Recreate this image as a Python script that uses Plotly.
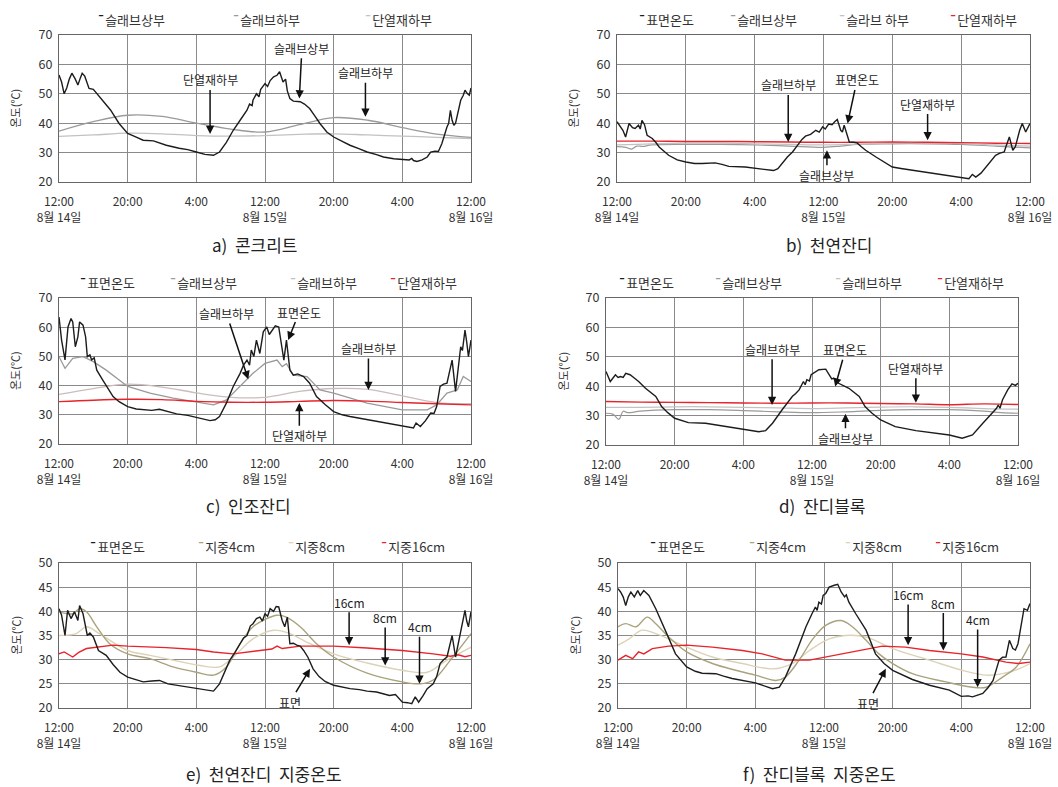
import plotly.graph_objects as go

W, H = 1058, 787
FONT = "Noto Sans CJK KR"

# ---------------- shared axes ----------------
HOURS13 = [0, 4, 8, 12, 16, 20, 24, 28, 32, 36, 40, 44, 48]
TICK_VALS = [0, 8, 16, 24, 32, 40, 48]
TICK_TEXT = ["12:00<br>8월 14일", "20:00", "4:00", "12:00<br>8월 15일", "20:00", "4:00", "12:00<br>8월 16일"]
Y_TICKS_AD = [20, 30, 40, 50, 60, 70]
Y_TICKS_EF = [20, 25, 30, 35, 40, 45, 50]
Y_TITLE = "온도(℃)"

# ---------------- a) 콘크리트 ----------------
a_top_t = [0, 0.3, 0.6, 0.9, 1.2, 1.5, 1.9, 2.2, 2.5, 2.7, 3.0, 3.3, 3.5, 4.0, 4.3, 5.1, 6.0, 7.0, 8.0, 9.0, 9.8, 11, 12.5, 14, 15, 16, 17, 18, 18.7, 19.5, 20.3, 21.1, 21.9, 22.2, 22.5, 22.6, 23, 23.3, 23.5, 24, 24.3, 24.6, 25, 25.4, 25.7, 26.1, 26.4, 26.6, 26.9, 27.3, 28.1, 28.6, 29.2, 29.8, 30.4, 31.2, 32, 33, 33.9, 35, 35.9, 37, 37.8, 39, 40, 40.8, 41.1, 41.3, 41.7, 42.3, 42.9, 43.3, 43.8, 44.2, 44.6, 45.0, 45.2, 45.4, 45.6, 45.8, 46.0, 46.2, 46.5, 46.8, 47.1, 47.3, 47.6, 47.8, 48]
a_top_v = [56.4, 54, 50, 52, 55, 57, 55, 53, 55.5, 57, 56, 53, 51.8, 51.5, 50.5, 47.8, 44.5, 39.9, 36.5, 35.3, 34.2, 34.0, 32.5, 31.5, 31, 30.2, 29.4, 29.1, 30.2, 33.5, 37.6, 41, 44.4, 46.5, 46, 47.8, 50, 49, 51.5, 53.5, 52.5, 54.5, 55.8, 56.3, 57.5, 54, 55, 51, 48.4, 47.5, 47.3, 46.5, 45, 42.5, 39.9, 37, 35.3, 33.8, 32.5, 31.3, 30.2, 29.3, 28.5, 27.9, 27.6, 27.5, 28, 27.3, 27, 27.5, 28.5, 30.2, 30.5, 30.4, 33, 37, 38.7, 40, 44.4, 41, 39.3, 40, 44, 47.8, 49.5, 51.2, 50, 49.5, 52]
a_slab_bottom = [37.3, 40.5, 42.7, 42.3, 40.0, 38.0, 37.0, 39.5, 41.9, 41.0, 38.5, 36.3, 35.2]
a_insul_bottom = [35.5, 36.0, 36.6, 36.4, 35.8, 35.6, 35.8, 36.2, 36.4, 36.0, 35.6, 35.2, 34.8]

# ---------------- b) 천연잔디 ----------------
b_surf_t = [0, 0.4, 0.7, 1.0, 1.4, 1.8, 2.1, 2.5, 2.7, 2.9, 3.2, 3.5, 4.1, 4.5, 4.9, 6, 7, 8, 9, 9.9, 11.4, 12.2, 13, 14.9, 16.9, 18.2, 18.7, 19.2, 19.8, 20.4, 21.1, 21.5, 21.9, 22.5, 23.1, 23.5, 23.9, 24.2, 24.6, 25, 25.3, 25.6, 26, 26.2, 26.4, 26.7, 27, 27.5, 27.9, 28.4, 28.9, 30.1, 31, 32, 33, 34.3, 36.3, 38.2, 40, 40.9, 41.3, 41.7, 42.3, 42.9, 43.5, 44, 44.5, 45, 45.2, 45.6, 46, 46.3, 46.8, 47.1, 47.5, 47.8, 48]
b_surf_v = [40.5, 39, 37.5, 35.3, 39.9, 38.5, 38.2, 39.3, 38, 41, 39.5, 35.9, 34.8, 33.5, 31.9, 29.1, 27.5, 26.8, 26.3, 26.3, 26.5, 26, 25.3, 25.1, 24.5, 23.9, 24.5, 26.3, 28.5, 30.2, 33, 34.5, 35.6, 36.2, 37.6, 37, 38.75, 38, 39.7, 39.5, 40.5, 41.25, 37.6, 37, 39.3, 36, 33.6, 33.5, 33.3, 32, 30.8, 28.5, 27, 25.1, 24.6, 24, 23.1, 22.3, 21.5, 21.1, 22.6, 21.7, 23, 25.1, 27, 29.1, 29.8, 30.2, 32, 35.3, 30.8, 32, 37.6, 39.9, 37, 38.5, 39.9]
b_slab_top_t = [0, 1, 1.7, 2.3, 3, 4, 8, 12, 16, 20, 24, 26, 28, 32, 36, 40, 44, 48]
b_slab_top_v = [32, 31.8, 31.2, 32.2, 32.1, 32.6, 32.8, 32.8, 32.6, 32.2, 31.8, 32.2, 32.8, 33, 33, 32.8, 32.2, 31.6]
b_slab_bottom = [32.6, 33, 33.2, 33.2, 33, 32.8, 32.6, 32.9, 33.3, 33.3, 33.1, 32.6, 32.2]
b_insul_bottom = [33.9, 33.9, 33.8, 33.8, 33.7, 33.6, 33.5, 33.5, 33.6, 33.5, 33.4, 33.2, 33.1]

# ---------------- c) 인조잔디 ----------------
c_surf_t = [0, 0.3, 0.7, 1.05, 1.4, 1.6, 1.9, 2.2, 2.4, 2.8, 3.1, 3.3, 3.6, 3.8, 4.1, 4.4, 5.1, 6.3, 7, 8, 9, 9.8, 10.8, 11.7, 12.7, 13.7, 15, 16, 17, 17.6, 18.2, 18.7, 19.5, 20.3, 21.1, 21.5, 21.9, 22.2, 22.4, 22.7, 23, 23.4, 23.8, 24.2, 24.5, 24.8, 25.2, 25.6, 26, 26.2, 26.5, 26.9, 27.3, 27.8, 28.5, 29.2, 30, 31, 32, 33, 33.9, 35, 35.9, 37, 37.8, 39, 40, 41.3, 41.6, 42.1, 42.7, 43.3, 43.7, 44, 44.4, 44.8, 45.2, 45.5, 45.8, 46.2, 46.5, 46.8, 47, 47.3, 47.5, 47.7, 48]
c_surf_v = [63.5, 55.6, 48.8, 60.1, 63, 61.8, 53.3, 56.7, 61.8, 60.7, 56.7, 49.9, 50.5, 48.8, 49.5, 45.3, 41.9, 36.25, 34.5, 32.8, 32, 31.7, 31.5, 31.9, 31, 30.3, 29.8, 29.2, 28.4, 28, 28.3, 29.4, 34, 39.7, 44.2, 47, 48.75, 47, 52.2, 50, 55.6, 51, 58.4, 60.1, 57.5, 59, 60.5, 60.1, 53.3, 48.75, 55.6, 45.3, 43.6, 44, 43.1, 40.8, 36.25, 33.5, 31.1, 30, 29.4, 28.8, 28.3, 27.6, 27.2, 26.5, 26, 25.5, 27.2, 26, 28, 30.6, 30.5, 32.8, 39.7, 40.5, 40.8, 45, 48.75, 38, 45, 53.3, 52, 59, 55, 49.9, 55.6]
c_slab_top_t = [0, 0.7, 1.6, 2.8, 4, 5.5, 8, 10.6, 13.3, 16, 18, 19.5, 21.1, 22.6, 24, 25.4, 26, 26.5, 27.3, 28.9, 30.4, 32, 35.9, 40, 42.9, 44, 45.2, 46.4, 47.1, 48]
c_slab_top_v = [49.9, 45.9, 49.3, 49.9, 48.2, 45.3, 39.7, 37.4, 35.7, 34.5, 33.4, 35.1, 39.7, 44.2, 47.6, 48.75, 46.5, 47.5, 43.6, 43.1, 38.5, 37.4, 34, 31.7, 31.7, 33.4, 37.4, 38.5, 43.1, 41.4]
c_slab_bottom = [37, 39, 40.5, 39.5, 37.5, 36, 36, 38, 39, 38.7, 36.5, 34.2, 33.8]
c_insul_bottom = [34.5, 35, 35.3, 35.2, 34.6, 34.3, 34.3, 34.6, 34.9, 34.7, 34.2, 33.8, 33.4]

# ---------------- d) 잔디블록 ----------------
d_surf_t = [0, 0.5, 1.1, 1.4, 1.7, 2.0, 2.3, 2.8, 3.3, 3.8, 4.6, 5.8, 6.5, 7.2, 8, 9.6, 11.6, 13.9, 15.9, 17.8, 18.6, 19.4, 20.5, 21.7, 22.1, 22.5, 23, 23.2, 23.4, 23.7, 23.9, 24.8, 25.6, 26, 26.3, 26.5, 27.1, 28.3, 29.5, 30.2, 31, 32, 33.7, 36.1, 38, 40, 41.5, 42.7, 43.9, 45.1, 45.5, 45.7, 45.9, 46.2, 46.8, 47.3, 47.7, 48]
d_surf_v = [45, 41.6, 43.9, 43, 43.3, 43, 44.4, 43.9, 42.8, 41.6, 39.3, 36.5, 33, 31, 29.1, 27.6, 27.4, 26.25, 25.3, 24.5, 24.9, 27.4, 31.9, 36.5, 37.5, 38.75, 41.6, 40.5, 42.2, 41.8, 43.9, 45.6, 45.8, 43.9, 42.5, 42.7, 41, 39.3, 36.5, 33, 30.8, 28.5, 26.25, 24.9, 24.2, 23.4, 22.3, 23.4, 27.4, 31.4, 32.5, 33.6, 32.5, 35.4, 38.75, 40.8, 40.3, 41]
d_slab_top_t = [0, 0.8, 1.5, 2, 2.5, 4, 8, 12, 16, 20, 24, 28, 32, 36, 40, 44, 46, 48]
d_slab_top_v = [30.8, 30.5, 28.75, 31.5, 31, 31.5, 32, 32, 31.7, 31.3, 31, 31.3, 31.8, 32, 32, 31.5, 31, 30.8]
d_slab_bottom = [32.8, 32.8, 33, 33, 32.8, 32.6, 32.4, 32.6, 32.9, 33, 32.8, 32.4, 32.2]
d_insul_bottom = [34.8, 34.6, 34.5, 34.4, 34.3, 34.2, 34.3, 34.3, 34.1, 34, 33.7, 34, 33.8]

# ---------------- e) 천연잔디 지중온도 ----------------
e_surf_t = [0, 0.3, 0.7, 1, 1.4, 1.8, 2.2, 2.4, 2.8, 3.3, 3.6, 4, 4.6, 5.5, 6.3, 7.1, 8, 9, 9.8, 10.8, 11.7, 12.7, 13.7, 15, 16, 17, 18, 18.7, 19.3, 19.9, 20.5, 21.1, 21.5, 21.9, 22.3, 22.6, 23, 23.4, 23.7, 24, 24.3, 24.6, 25, 25.3, 25.6, 26, 26.3, 26.6, 26.9, 27.3, 27.7, 28.1, 28.5, 29, 29.6, 30.3, 31, 32, 33, 33.9, 35, 35.9, 37, 37.8, 38.5, 39.2, 40, 40.6, 41.1, 41.5, 41.9, 42.4, 42.9, 43.6, 44, 44.4, 44.8, 45.2, 45.5, 45.8, 46.2, 46.5, 46.8, 47.1, 47.3, 47.5, 47.7, 48]
e_surf_v = [40.55, 39.2, 35, 40.2, 38.5, 39.9, 38.1, 41.2, 39.5, 35, 35.5, 34.7, 31.9, 30.9, 29, 27.4, 26.4, 25.8, 25.4, 25.6, 25.7, 25, 24.7, 24.3, 24, 23.7, 23.5, 25, 27.5, 29.9, 31.5, 33.3, 34.5, 35, 37, 37.45, 38.5, 38.8, 38, 39.5, 39, 40.55, 40, 41, 40.9, 38.1, 36.8, 38.8, 33.3, 33.4, 33, 32.8, 31.9, 30.5, 28.1, 26.5, 25.5, 24.7, 24.3, 24, 23.8, 23.5, 23.3, 23, 22.6, 22.8, 21.2, 21.1, 20.9, 22.3, 21.2, 22.5, 24, 25, 26.5, 29.2, 30, 30.55, 33, 35, 30.55, 33, 36.1, 38, 40.2, 38, 36.8, 39.9]
e_4cm_t = [0, 1.6, 2.4, 3.2, 4.4, 5.9, 8, 10.6, 13.3, 16, 18, 19.5, 21.1, 22.6, 24.2, 25.4, 26.5, 28.1, 30, 32, 35.9, 40, 42.1, 43.6, 45.6, 48]
e_4cm_v = [39.9, 39.5, 40.55, 39.9, 36.8, 33.3, 31.2, 30.2, 28.5, 27.4, 26.8, 28.5, 33.3, 36.8, 38.5, 39.2, 38.8, 36.8, 33.3, 30.55, 27.2, 25.4, 25, 25.8, 29.9, 35.4]
e_8cm_t = [0, 2, 3.2, 4.7, 8, 10.6, 13.3, 16.4, 18.7, 20.3, 22.6, 25, 26.9, 28.9, 32, 35.9, 40, 42.9, 45.2, 48]
e_8cm_v = [35, 35.4, 36.8, 35.4, 31.9, 30.9, 29.9, 28.8, 28.5, 30.55, 34.3, 36.1, 35.4, 33.6, 31.2, 29.3, 27.8, 27.4, 29.9, 32.6]
e_16cm_t = [0, 0.6, 1.6, 2.3, 3.2, 4.7, 6.3, 8, 12.5, 16, 18, 20.3, 22.2, 24, 24.8, 25.4, 26, 28.1, 32, 35.9, 40, 43.6, 45.6, 46.5, 47.3, 48]
e_16cm_v = [31.2, 31.6, 30.55, 31.5, 32.3, 32.6, 33, 32.8, 32.5, 32.1, 31.6, 31.2, 31.6, 31.9, 32.2, 32.8, 32.3, 32.8, 32.8, 32.4, 31.9, 31.2, 30.7, 31, 30.6, 30.9]

# ---------------- f) 잔디블록 지중온도 ----------------
f_surf_t = [0, 0.3, 0.6, 0.9, 1.2, 1.5, 1.9, 2.3, 2.6, 3, 3.6, 4.4, 5.6, 6.7, 8, 9, 9.8, 11.4, 12.3, 13.3, 16, 17, 18, 18.8, 19.5, 20.7, 21.9, 22.6, 23, 23.2, 23.4, 23.7, 23.9, 24.2, 24.6, 25.2, 25.6, 26, 26.4, 26.6, 26.9, 27.7, 28.9, 30, 31, 32, 34.3, 36.3, 38.6, 40, 40.8, 41.3, 42.5, 43.1, 43.7, 44.4, 44.8, 45.2, 45.6, 46, 46.3, 46.6, 47, 47.3, 47.7, 48]
f_surf_v = [44.7, 44, 43, 41.2, 43, 44, 43, 44.3, 43.3, 44.3, 43.3, 40.55, 35.7, 31.2, 28.5, 27.6, 27.2, 27.1, 26.6, 26.1, 25.2, 24.6, 24, 24.3, 26.4, 31.2, 36.8, 39.5, 40.9, 40.2, 41.9, 41.5, 43.3, 43.7, 45, 45.4, 45.6, 44, 43, 43.4, 41.9, 39.5, 36.1, 31.2, 29.2, 27.8, 25.9, 24.7, 23.7, 22.4, 22.5, 22.3, 23, 24.2, 25.7, 29.9, 30.5, 30.55, 34, 32.3, 32, 33.3, 37.45, 40.55, 40.2, 41.6]
f_4cm_t = [0, 0.9, 2.1, 3.4, 4.4, 5.9, 8, 11, 13.7, 16, 18.4, 19.5, 21.1, 22.7, 24.2, 26, 27.3, 28.9, 30.4, 32, 34.3, 38.2, 41.3, 42.9, 44.8, 46.4, 48]
f_4cm_v = [36.8, 37.45, 36.8, 38.8, 37.45, 34.7, 31.6, 29.2, 27.8, 26.8, 25.7, 26.4, 29.9, 34.3, 37.1, 38.1, 36.8, 34, 31.2, 29.2, 27.1, 25.4, 24.3, 24.3, 26.4, 28.5, 33.3]
f_8cm_t = [0, 1.3, 2.8, 4.4, 5.9, 8, 11, 14.5, 18, 20.3, 22.3, 24.6, 26.5, 28.9, 32, 36.3, 40.1, 42.9, 44.8, 46.7, 48]
f_8cm_v = [33, 34.3, 36.1, 35.4, 34.3, 32.6, 30.55, 29.2, 28.1, 29.2, 31.9, 34.3, 35, 34.7, 32.3, 29.9, 27.8, 26.8, 27.1, 28.1, 29.2]
f_16cm_t = [0, 0.9, 1.7, 2.4, 3, 4, 5.9, 8, 11, 14.5, 16.8, 19.5, 22.3, 24.2, 26.9, 28.9, 30.8, 33.5, 36.3, 40, 42.5, 45.2, 46.7, 48]
f_16cm_v = [29.9, 30.9, 30.2, 31.6, 31.2, 32.3, 32.8, 33, 32.6, 31.9, 31.2, 29.9, 29.9, 30.55, 31.6, 32.3, 32.8, 32.6, 31.9, 31.2, 30.55, 29.5, 29.2, 29.5]

# ---------------- styles ----------------
BLACK = "#1c1c1c"
GRAY = "#9a9a9a"
LGRAY = "#c2c2c2"
PINKGRAY = "#cdbcbc"
RED = "#e8232b"
OLIVE = "#aaa27c"
BEIGE = "#dcd2b6"

# panel pixel boxes (left, top, right, bottom)
BOXES = {
    1: (59, 35, 471, 182),
    2: (617, 35, 1030, 182),
    3: (59, 298, 471, 444),
    4: (606, 298, 1018, 445),
    5: (59, 563, 471, 708),
    6: (618, 563, 1030, 708),
}

fig = go.Figure()


def add_line(p, t, v, color, width=1.2, shape="linear"):
    fig.add_trace(go.Scatter(
        x=t, y=v, mode="lines", showlegend=False, hoverinfo="skip",
        line=dict(color=color, width=width, shape=shape),
        xaxis="x" if p == 1 else f"x{p}", yaxis="y" if p == 1 else f"y{p}",
    ))


SP = "spline"
# a
add_line(1, HOURS13, a_insul_bottom, LGRAY, 1.3, SP)
add_line(1, HOURS13, a_slab_bottom, GRAY, 1.3, SP)
add_line(1, a_top_t, a_top_v, BLACK, 1.4)
# b
add_line(2, b_slab_top_t, b_slab_top_v, GRAY, 1.2, SP)
add_line(2, HOURS13, b_slab_bottom, LGRAY, 1.2, SP)
add_line(2, HOURS13, b_insul_bottom, RED, 1.4, SP)
add_line(2, b_surf_t, b_surf_v, BLACK, 1.4)
# c
add_line(3, HOURS13, c_slab_bottom, PINKGRAY, 1.3, SP)
add_line(3, c_slab_top_t, c_slab_top_v, GRAY, 1.3)
add_line(3, HOURS13, c_insul_bottom, RED, 1.4, SP)
add_line(3, c_surf_t, c_surf_v, BLACK, 1.4)
# d
add_line(4, d_slab_top_t, d_slab_top_v, GRAY, 1.2, SP)
add_line(4, HOURS13, d_slab_bottom, LGRAY, 1.2, SP)
add_line(4, HOURS13, d_insul_bottom, RED, 1.4, SP)
add_line(4, d_surf_t, d_surf_v, BLACK, 1.4)
# e
add_line(5, e_8cm_t, e_8cm_v, BEIGE, 1.4, SP)
add_line(5, e_4cm_t, e_4cm_v, OLIVE, 1.4, SP)
add_line(5, e_16cm_t, e_16cm_v, RED, 1.4)
add_line(5, e_surf_t, e_surf_v, BLACK, 1.4)
# f
add_line(6, f_8cm_t, f_8cm_v, BEIGE, 1.4, SP)
add_line(6, f_4cm_t, f_4cm_v, OLIVE, 1.4, SP)
add_line(6, f_16cm_t, f_16cm_v, RED, 1.4)
add_line(6, f_surf_t, f_surf_v, BLACK, 1.4)

layout = dict(
    width=W, height=H, margin=dict(l=0, r=0, t=0, b=0),
    paper_bgcolor="white", plot_bgcolor="white",
    font=dict(family=FONT, size=12, color="#333"),
    showlegend=False,
)

for p, (l, t, r, b) in BOXES.items():
    xa = "xaxis" if p == 1 else f"xaxis{p}"
    ya = "yaxis" if p == 1 else f"yaxis{p}"
    yticks = Y_TICKS_AD if p <= 4 else Y_TICKS_EF
    layout[xa] = dict(
        domain=[l / W, r / W], anchor="y" if p == 1 else f"y{p}",
        range=[0, 48], tickvals=TICK_VALS, ticktext=TICK_TEXT,
        showgrid=True, gridcolor="#8a8a8a", gridwidth=1,
        showline=True, linecolor="#666", mirror=True, linewidth=1,
        ticks="", zeroline=False, automargin=False, ticklabelstandoff=9,
        tickfont=dict(size=12, color="#333", family=FONT),
    )
    layout[ya] = dict(
        domain=[1 - b / H, 1 - t / H], anchor="x" if p == 1 else f"x{p}",
        range=[yticks[0], yticks[-1]], tickvals=yticks,
        showgrid=True, gridcolor="#8a8a8a", gridwidth=1,
        showline=True, linecolor="#666", mirror=True, linewidth=1,
        ticks="", zeroline=False, automargin=False, ticklabelstandoff=3,
        tickfont=dict(size=12.5, color="#333", family=FONT),
    )

fig.update_layout(**layout)

anns = []
# ---------------- y-axis titles ----------------
for p, (l, t, r, b) in BOXES.items():
    anns.append(dict(
        xref="paper", yref="paper", x=(l - 44) / W, y=1 - (t + b) / 2 / H,
        xanchor="center", yanchor="middle", showarrow=False, textangle=-90,
        text=Y_TITLE, font=dict(size=11, color="#333", family=FONT),
    ))

# ---------------- legends (as text) ----------------
LEGENDS = [
    (20, [(95, "슬래브상부", BLACK), (230, "슬래브하부", GRAY), (362, "단열재하부", LGRAY)]),
    (20, [(636, "표면온도", BLACK), (727, "슬래브상부", GRAY), (836, "슬라브 하부", LGRAY), (947, "단열재하부", RED)]),
    (282, [(77, "표면온도", BLACK), (167, "슬래브상부", GRAY), (287, "슬래브하부", LGRAY), (387, "단열재하부", RED)]),
    (282, [(616, "표면온도", BLACK), (712, "슬래브상부", GRAY), (832, "슬래브하부", LGRAY), (934, "단열재하부", RED)]),
    (546, [(87, "표면온도", BLACK), (195, "지중4cm", OLIVE), (285, "지중8cm", BEIGE), (378, "지중16cm", RED)]),
    (546, [(647, "표면온도", BLACK), (746, "지중4cm", OLIVE), (842, "지중8cm", BEIGE), (932, "지중16cm", RED)]),
]
for py, items in LEGENDS:
    for px, name, col in items:
        anns.append(dict(
            xref="paper", yref="paper", x=px / W, y=1 - py / H,
            xanchor="left", yanchor="middle", showarrow=False,
            text=f'<span style="color:{col}"><b>¯</b></span>{name}',
            font=dict(size=13, color="#333", family=FONT),
        ))

# ---------------- captions ----------------
CAPTIONS = [
    (255, 245, "a)  콘크리트"), (829, 245, "b)  천연잔디"),
    (248, 505, "c)  인조잔디"), (822, 505, "d)  잔디블록"),
    (264, 773, "e)  천연잔디  지중온도"), (819, 773, "f)  잔디블록  지중온도"),
]
for px, py, txt in CAPTIONS:
    anns.append(dict(
        xref="paper", yref="paper", x=px / W, y=1 - py / H,
        xanchor="center", yanchor="middle", showarrow=False,
        text=txt, font=dict(size=17, color="#222", family=FONT),
    ))

# ---------------- arrow labels: (panel, label, tip_x, tip_y, text_x, text_y) ----------------
ARROWS = [
    (1, "단열재하부", 17.6, 36.3, 17.6, 54.7),
    (1, "슬래브상부", 28.0, 48.4, 28.3, 65.5),
    (1, "슬래브하부", 35.7, 42.2, 35.7, 57.2),
    (2, "슬래브하부", 19.9, 33.6, 19.9, 53.0),
    (2, "표면온도", 26.8, 39.9, 27.9, 54.7),
    (2, "단열재하부", 36.1, 34.2, 36.1, 46.5),
    (2, "슬래브상부", 24.4, 30.8, 24.4, 22.3),
    (3, "슬래브하부", 22.05, 42.2, 19.5, 64.7),
    (3, "표면온도", 26.7, 55.6, 28.0, 65.2),
    (3, "슬래브하부", 36.05, 38.5, 36.05, 52.7),
    (3, "단열재하부", 28.0, 34.0, 28.0, 22.8),
    (4, "슬래브하부", 19.35, 33.6, 19.35, 52.6),
    (4, "표면온도", 26.7, 39.9, 27.9, 52.4),
    (4, "단열재하부", 36.1, 34.4, 36.1, 46.1),
    (4, "슬래브상부", 27.9, 30.6, 27.9, 22.3),
    (5, "16cm", 33.8, 33.0, 33.8, 41.9),
    (5, "8cm", 38.0, 28.8, 38.0, 38.7),
    (5, "4cm", 42.0, 25.0, 42.0, 36.8),
    (5, "표면", 29.25, 28.1, 26.9, 21.2),
    (6, "16cm", 33.8, 33.0, 33.8, 43.5),
    (6, "8cm", 37.9, 31.9, 37.9, 41.7),
    (6, "4cm", 41.9, 24.3, 41.9, 38.3),
    (6, "표면", 31.2, 28.1, 29.1, 21.0),
]
for p, label, tx, ty, lx, ly in ARROWS:
    xr = "x" if p == 1 else f"x{p}"
    yr = "y" if p == 1 else f"y{p}"
    anns.append(dict(
        xref=xr, yref=yr, axref=xr, ayref=yr,
        x=tx, y=ty, ax=lx, ay=ly, text=label,
        showarrow=True, arrowhead=2, arrowsize=1.1, arrowwidth=1.5,
        arrowcolor="#111", standoff=0, startstandoff=0,
        font=dict(size=12, color="#222", family=FONT),
    ))

fig.update_layout(annotations=anns)
fig.write_html("out.html")
